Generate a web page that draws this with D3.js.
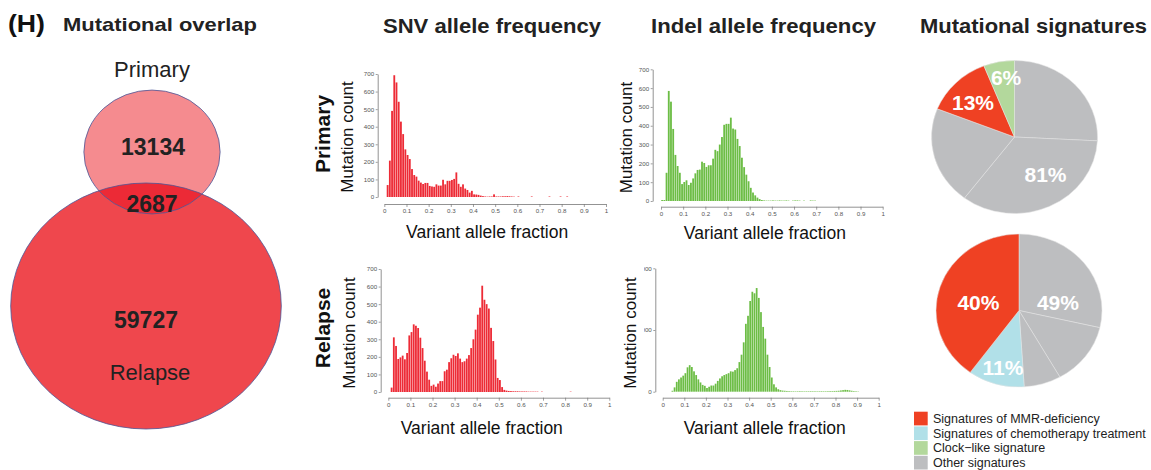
<!DOCTYPE html>
<html>
<head>
<meta charset="utf-8">
<script src="https://cdn.jsdelivr.net/npm/d3@7"></script>
<style>
  body { margin: 0; background: #fff; }
  text { font-family: "Liberation Sans", Arial, Helvetica, sans-serif; }
</style>
</head>
<body>
<div id="chart"></div>
<script>
// ---- data ----
const binWidth = 0.01;
const xTicks = [0, 0.1, 0.2, 0.3, 0.4, 0.5, 0.6, 0.7, 0.8, 0.9, 1];

// counts per 0.01 VAF bin, starting at 0.00
const snvPrimary = [0, 68, 207, 490, 693, 652, 542, 429, 358, 271,
  239, 216, 159, 125, 116, 93, 82, 74, 80, 80,
  63, 60, 58, 72, 65, 65, 98, 72, 92, 92,
  97, 103, 140, 75, 58, 72, 48, 40, 25, 35,
  15, 14, 12, 8, 5, 3, 2, 3, 3, 15,
  3, 3, 3, 4, 4, 5, 4, 3, 2, 0,
  3, 0, 0, 0, 0, 0, 3, 0, 0, 0,
  0, 0, 0, 0, 3, 0, 0, 0, 0, 3,
  0, 0, 3];
const indelPrimary = [5, 5, 150, 585, 528, 383, 245, 186, 150, 90,
  101, 110, 85, 97, 120, 147, 165, 167, 209, 202,
  181, 190, 190, 225, 272, 265, 300, 340, 405, 410,
  410, 443, 385, 380, 330, 292, 230, 180, 140, 105,
  70, 45, 30, 18, 10, 5, 3, 2, 2, 2,
  3, 2, 2, 3, 2, 2, 3, 2, 0, 2,
  3, 3, 2, 0, 2, 0, 0, 3, 2, 2];
const snvRelapse = [0, 25, 311, 262, 188, 197, 207, 186, 222, 322,
  341, 385, 377, 364, 309, 250, 178, 116, 70, 35,
  42, 30, 48, 62, 62, 118, 127, 170, 192, 212,
  205, 220, 190, 170, 175, 190, 210, 250, 300, 355,
  440, 480, 605, 525, 500, 475, 365, 290, 185, 80,
  68, 28, 12, 8, 6, 5, 4, 4, 4, 3,
  3, 3, 3, 2, 2, 2, 2, 2, 0, 2,
  0, 0, 0, 0, 0, 0, 0, 0, 0, 0,
  0, 0, 2];
const indelRelapse = [0, 0, 0, 0, 15, 70, 160, 200, 230, 260,
  300, 395, 430, 400, 330, 270, 200, 150, 110, 95,
  60, 80, 100, 100, 130, 175, 215, 250, 270, 285,
  300, 330, 325, 350, 380, 480, 600, 800, 1100, 1230,
  1470, 1620, 1595, 1680, 1520, 1290, 1050, 860, 600, 400,
  230, 120, 70, 40, 25, 18, 15, 12, 10, 8,
  8, 7, 8, 9, 8, 7, 8, 8, 9, 8,
  8, 7, 8, 9, 8, 8, 9, 10, 10, 12,
  13, 15, 20, 25, 30, 28, 22, 15, 10, 8,
  5];

const snvTicks = [0, 100, 200, 300, 400, 500, 600, 700];
const indelRelapseTicks = [0, 1000, 2000];

// venn counts
const primaryOnly = 13134;
const sharedCount = 2687;
const relapseOnly = 59727;

// mutational signatures
const sigCategories = ["Signatures of MMR-deficiency", "Signatures of chemotherapy treatment",
  "Clock\u2212like signature", "Other signatures"];
const sigColors = ["#ef4123", "#b1e0e8", "#b3d89c", "#bdbec0"];
// slices clockwise from 12 o'clock: [category index, percent]
const primarySig = [[3, 25.8], [3, 34.5], [3, 20.7], [0, 13], [2, 6]];
const relapseSig = [[3, 28.6], [3, 13.2], [3, 7.2], [1, 11], [0, 40]];

// ---- drawing ----
const width = 1151, height = 470;
const svg = d3.select("#chart").append("svg")
  .attr("width", width).attr("height", height);
const defs = svg.append("defs");

// headings
svg.append("text").attr("x", 8).attr("y", 32)
  .attr("font-size", 23).attr("font-weight", "bold").attr("fill", "#111")
  .attr("textLength", 37).attr("lengthAdjust", "spacingAndGlyphs").text("(H)");
svg.append("text").attr("x", 63).attr("y", 31)
  .attr("font-size", 19).attr("font-weight", "bold").attr("fill", "#222")
  .attr("textLength", 194).attr("lengthAdjust", "spacingAndGlyphs").text("Mutational overlap");

const titles = [["SNV allele frequency", 383, 218], ["Indel allele frequency", 651, 225], ["Mutational signatures", 920, 227]];
titles.forEach(t => {
  svg.append("text").attr("x", t[1]).attr("y", 33)
    .attr("font-family", "'Liberation Sans Narrow', 'Arial Narrow', 'Liberation Sans', sans-serif")
    .attr("font-size", 20).attr("font-weight", "bold").attr("fill", "#222")
    .attr("textLength", t[2]).attr("lengthAdjust", "spacingAndGlyphs").text(t[0]);
});

// ---- venn ----
const venn = svg.append("g");
const rScale = d3.scaleSqrt().domain([0, relapseOnly + sharedCount]).range([0, 123]);
const stretch = 1.1;
const pC = { x: 152, y: 152, r: rScale(primaryOnly + sharedCount) };
const rC = { x: 146, y: 306, r: rScale(relapseOnly + sharedCount) };

defs.append("clipPath").attr("id", "relClip")
  .append("ellipse").attr("cx", rC.x).attr("cy", rC.y).attr("rx", rC.r * stretch).attr("ry", rC.r);

venn.append("ellipse").attr("cx", rC.x).attr("cy", rC.y).attr("rx", rC.r * stretch).attr("ry", rC.r)
  .attr("fill", "#ef474d");
venn.append("ellipse").attr("cx", pC.x).attr("cy", pC.y).attr("rx", pC.r * stretch).attr("ry", pC.r)
  .attr("fill", "#f58b8f");
venn.append("ellipse").attr("cx", pC.x).attr("cy", pC.y).attr("rx", pC.r * stretch).attr("ry", pC.r)
  .attr("fill", "#ec2a36").attr("clip-path", "url(#relClip)");
[pC, rC].forEach(c => {
  venn.append("ellipse").attr("cx", c.x).attr("cy", c.y).attr("rx", c.r * stretch).attr("ry", c.r)
    .attr("fill", "none").attr("stroke", "#4a5798").attr("stroke-width", 0.8);
});

const vennText = [
  ["Primary", 152, 77, "normal"], [primaryOnly, 153, 155, "bold"], [sharedCount, 152, 212, "bold"],
  [relapseOnly, 146, 328, "bold"], ["Relapse", 150, 380, "normal"]
];
vennText.forEach(t => {
  venn.append("text").attr("x", t[1]).attr("y", t[2]).attr("text-anchor", "middle")
    .attr("font-size", t[3] === "bold" ? 23 : 22).attr("font-weight", t[3]).attr("fill", "#222")
    .text(t[0]);
});

// ---- row labels ----
[["Primary", 134], ["Relapse", 328]].forEach(r => {
  svg.append("text").attr("transform", `translate(330,${r[1]}) rotate(-90)`)
    .attr("text-anchor", "middle").attr("font-size", 21).attr("font-weight", "bold")
    .attr("fill", "#111").text(r[0]);
});

// ---- histograms ----
defs.append("clipPath").attr("id", "tickClip")
  .append("rect").attr("x", 644).attr("y", 250).attr("width", 40).attr("height", 160);

function drawHist(p) {
  const g = svg.append("g");
  const x = d3.scaleLinear().domain([0, 1]).range([p.left, p.right]);
  const y = d3.scaleLinear().domain([0, p.yMax]).range([p.base, p.top]);
  const bw = x(binWidth) - x(0);

  g.append("g").selectAll("rect")
    .data(p.counts.map((c, i) => ({ i, c })).filter(d => d.c > 0))
    .join("rect")
    .attr("x", d => x(d.i * binWidth) + 0.2)
    .attr("width", bw - 0.4)
    .attr("y", d => y(d.c))
    .attr("height", d => y(0) - y(d.c))
    .attr("fill", p.color);

  // wrapper so the clip rect is in page coordinates
  const yWrap = g.append("g");
  if (p.clip) yWrap.attr("clip-path", "url(#tickClip)");
  const ya = yWrap.append("g").attr("transform", `translate(${p.axisX},0)`)
    .call(d3.axisLeft(y).tickValues(p.yTicks).tickSize(2).tickSizeOuter(0).tickPadding(1.5));

  const xa = g.append("g").attr("transform", `translate(0,${p.xAxisY})`)
    .call(d3.axisBottom(x).tickValues(xTicks).tickFormat(d3.format("~g")).tickSize(3).tickSizeOuter(0).tickPadding(1.5));

  [ya, xa].forEach(a => {
    a.select(".domain").attr("stroke", "#777").attr("stroke-width", 0.8);
    a.selectAll(".tick line").attr("stroke", "#777").attr("stroke-width", 0.7);
    a.selectAll(".tick text").attr("font-size", 6.2).attr("fill", "#555")
      .attr("font-family", "'Liberation Sans', Arial, sans-serif");
  });

  g.append("text").attr("x", (p.left + p.right) / 2 + p.xLabelDx).attr("y", p.xLabelY)
    .attr("text-anchor", "middle").attr("font-size", 17.5).attr("fill", "#111")
    .text("Variant allele fraction");
  g.append("text").attr("transform", `translate(${p.yLabelX},${p.yLabelY}) rotate(-90)`)
    .attr("text-anchor", "middle").attr("font-size", 17).attr("fill", "#111")
    .text("Mutation count");
}

drawHist({ counts: snvPrimary, color: "#ed2b36", left: 384.3, right: 606, base: 197, top: 74,
  yMax: 700, yTicks: snvTicks, axisX: 377.7, xAxisY: 204, xLabelDx: -8, xLabelY: 238, yLabelX: 353, yLabelY: 137 });
drawHist({ counts: indelPrimary, color: "#6cbd45", left: 661, right: 882.7, base: 201, top: 69.3,
  yMax: 700, yTicks: snvTicks, axisX: 652.7, xAxisY: 206.7, xLabelDx: -7, xLabelY: 239, yLabelX: 632, yLabelY: 137.5 });
drawHist({ counts: snvRelapse, color: "#ed2b36", left: 388.3, right: 609.3, base: 392, top: 269,
  yMax: 700, yTicks: snvTicks, axisX: 380.7, xAxisY: 397.7, xLabelDx: -17, xLabelY: 434, yLabelX: 355, yLabelY: 333 });
drawHist({ counts: indelRelapse, color: "#6cbd45", left: 662.7, right: 878.7, base: 391.7, top: 268.3,
  yMax: 2000, yTicks: indelRelapseTicks, axisX: 655.3, xAxisY: 397.7, xLabelDx: -6, xLabelY: 434, yLabelX: 636, yLabelY: 333, clip: true });

// ---- pies ----
const pieR = 76.5;
const pieStretch = 1.085;
const pie = d3.pie().sort(null).value(d => d[1]);
const arc = d3.arc().innerRadius(0).outerRadius(pieR);

function drawPie(cx, cy, slices, labelPos) {
  const g = svg.append("g").attr("transform", `translate(${cx},${cy})`);
  g.append("g").attr("transform", `scale(${pieStretch},1)`)
    .selectAll("path").data(pie(slices)).join("path")
    .attr("d", arc)
    .attr("fill", d => sigColors[d.data[0]])
    .attr("stroke", "#e4e4e4").attr("stroke-width", 0.5);

  // one label per category
  const cats = Array.from(new Set(slices.map(s => s[0])));
  cats.forEach(c => {
    const pct = d3.sum(slices.filter(s => s[0] === c), s => s[1]);
    const lp = labelPos[c];
    const a = lp[0] * Math.PI / 180;
    g.append("text")
      .attr("x", Math.sin(a) * lp[1] * pieR * pieStretch)
      .attr("y", -Math.cos(a) * lp[1] * pieR)
      .attr("dy", "0.36em").attr("text-anchor", "middle")
      .attr("font-size", 21).attr("font-weight", "bold").attr("fill", "#fff")
      .text(Math.round(pct) + "%");
  });
}

drawPie(1014.5, 137, primarySig, { 3: [143, 0.62], 0: [311.7, 0.67], 2: [352.6, 0.79] });
drawPie(1019, 310.5, relapseSig, { 3: [77.5, 0.48], 0: [282, 0.5], 1: [194.5, 0.77] });

// ---- legend ----
const legend = svg.append("g").attr("transform", "translate(914,411.7)");
const rowH = 14.7;
legend.selectAll("rect").data(sigCategories).join("rect")
  .attr("x", 0).attr("y", (d, i) => i * rowH).attr("width", 13.7).attr("height", 13.7)
  .attr("fill", (d, i) => sigColors[i]);
legend.selectAll("text").data(sigCategories).join("text")
  .attr("x", 19).attr("y", (d, i) => i * rowH + 11.3)
  .attr("font-size", 12.5).attr("fill", "#222").text(d => d);
</script>
</body>
</html>
